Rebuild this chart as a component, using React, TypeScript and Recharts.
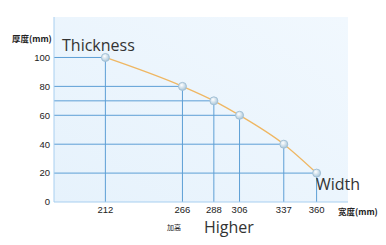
import React from 'react';
import { LineChart, Line, XAxis, YAxis, CartesianGrid, ReferenceLine } from 'recharts';

// widths (mm) along the bottom, thickness (mm) at each width
const widths = [212, 266, 288, 306, 337, 360];
const thickness = [100, 80, 70, 60, 40, 20];
const yTicks = [0, 20, 40, 60, 70, 80, 100];

const X_DOMAIN: [number, number] = [176, 382];
const Y_DOMAIN: [number, number] = [0, 128];

const data = widths.map((w, i) => ({ width: w, thickness: thickness[i] }));

const gridColor = '#5d9fd5';
const axisColor = '#a8cff0';
const tickStyle = { fontSize: 9.5, fill: '#222', fontFamily: 'Liberation Sans, Arial, sans-serif' };

const label = (extra: React.CSSProperties): React.CSSProperties => ({
    position: 'absolute',
    whiteSpace: 'nowrap',
    lineHeight: 1,
    color: '#333',
    fontFamily: '"Open Sans", "Noto Sans", sans-serif',
    ...extra,
});

const cjk = '"Noto Sans CJK SC", "Noto Sans", sans-serif';

const App: React.FC = () => {
    return (
        <div style={{ position: 'absolute', left: 0, top: 0, width: 386, height: 245, background: '#fff' }}>
            <LineChart width={386} height={245} data={data} margin={{ top: 17, right: 38, bottom: 13, left: 0 }}>
                <defs>
                    <linearGradient id="bgGrad" x1="0" y1="1" x2="1" y2="0">
                        <stop offset="0%" stopColor="#e6f2fc" />
                        <stop offset="100%" stopColor="#f1f8fe" />
                    </linearGradient>
                    <radialGradient id="dotGrad" cx="40%" cy="35%" r="65%">
                        <stop offset="0%" stopColor="#ffffff" />
                        <stop offset="100%" stopColor="#a9c6da" />
                    </radialGradient>
                </defs>
                <CartesianGrid horizontal={false} vertical={false} fill="url(#bgGrad)" stroke="none" />
                <XAxis
                    dataKey="width"
                    type="number"
                    domain={X_DOMAIN}
                    ticks={widths}
                    height={30}
                    tickLine={false}
                    tickSize={0}
                    tickMargin={4}
                    axisLine={{ stroke: axisColor }}
                    tick={tickStyle}
                    allowDataOverflow
                />
                <YAxis
                    type="number"
                    domain={Y_DOMAIN}
                    ticks={yTicks}
                    width={54}
                    tickLine={false}
                    tickSize={0}
                    tickMargin={4}
                    axisLine={{ stroke: axisColor }}
                    tick={tickStyle}
                    allowDataOverflow
                />
                {data.map((d) => (
                    <ReferenceLine
                        key={`h-${d.width}`}
                        segment={[{ x: X_DOMAIN[0], y: d.thickness }, { x: d.width, y: d.thickness }]}
                        stroke={gridColor}
                        strokeWidth={1}
                    />
                ))}
                {data.map((d) => (
                    <ReferenceLine
                        key={`v-${d.width}`}
                        segment={[{ x: d.width, y: 0 }, { x: d.width, y: d.thickness }]}
                        stroke={gridColor}
                        strokeWidth={1}
                    />
                ))}
                <Line
                    type="monotone"
                    dataKey="thickness"
                    stroke="#efb763"
                    strokeWidth={1.3}
                    dot={{ r: 4, fill: 'url(#dotGrad)', stroke: '#a3c1d6', strokeWidth: 1 }}
                    isAnimationActive={false}
                />
            </LineChart>
            <div style={label({ left: 12, top: 34, fontSize: 8.5, fontWeight: 700, fontFamily: cjk, color: '#222' })}>厚度(mm)</div>
            <div style={label({ left: 62, top: 37, fontSize: 16 })}>Thickness</div>
            <div style={label({ left: 316, top: 176, fontSize: 16 })}>Width</div>
            <div style={label({ left: 338, top: 207, fontSize: 8.5, fontWeight: 700, fontFamily: cjk, color: '#222' })}>宽度(mm)</div>
            <div style={label({ left: 167, top: 224, fontSize: 7, fontFamily: cjk, color: '#222' })}>加高</div>
            <div style={label({ left: 204, top: 219, fontSize: 16 })}>Higher</div>
        </div>
    );
};

export default App;
